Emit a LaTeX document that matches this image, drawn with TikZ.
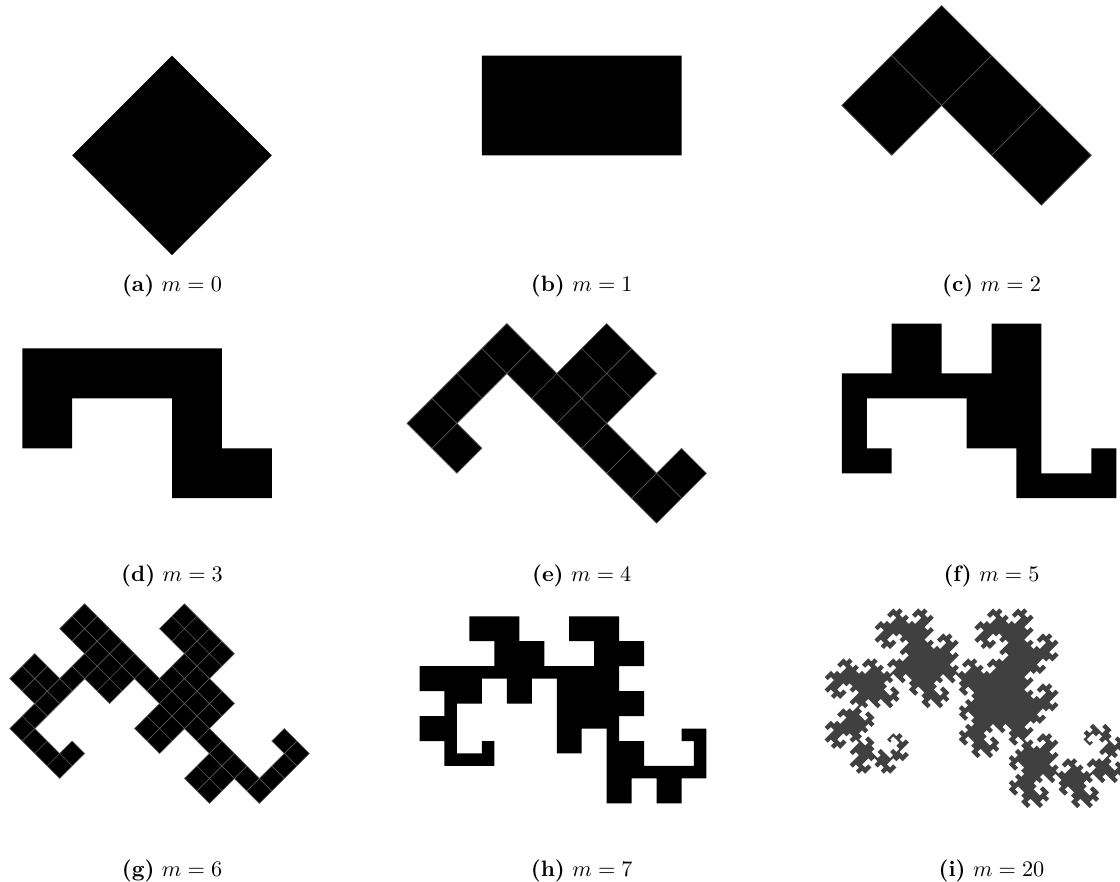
\documentclass[tikz,border=0pt]{standalone}
\usetikzlibrary{lindenmayersystems}
\definecolor{tile}{HTML}{000000}
\definecolor{seam}{HTML}{5A5A5A}
\definecolor{limit}{HTML}{404040}

% each S is one square whose diagonal is the current step
\pgfdeclarelindenmayersystem{dragon tiles}{
  \symbol{S}{%
    \pgflsystemturnleft\pgflsystemdrawforward
    \pgflsystemturnright\pgflsystemturnright\pgflsystemdrawforward
    \pgflsystemturnright\pgflsystemturnright\pgflsystemdrawforward
    \pgflsystemturnright\pgflsystemturnright\pgflsystemdrawforward
    \pgflsystemturnright\pgflsystemturnright\pgflsystemmoveforward
    \pgflsystemturnright\pgflsystemturnright\pgflsystemmoveforward
    \pgflsystemturnleft}
  \rule{X -> X--YS--}
  \rule{Y -> ++SX++Y}
}

\begin{document}
\begin{tikzpicture}[x=0.45pt,y=0.45pt,
  subcap/.style={font=\normalsize,anchor=base,inner sep=0pt},
  plaintile/.style={fill=tile},
  seamtile/.style={fill=tile,draw=seam,line width=0.3pt},
  limittile/.style={fill=limit}]
  \useasboundingbox (0,-881) rectangle (1120,0);
  \clip (0,-881) rectangle (1120,0);

  % ---- dragon tilings, one per panel (A = start of the base segment) ----
  % m = 20 is shown with a finer tiling of order 12
  \foreach \name/\ax/\ay/\ord/\axm/\edge/\look/\mm/\cy in {
      a/72.2/-155.3/0/SX/63.51/plaintile/0/-291.5,
      b/481.9/-155.3/1/+SX/44.91/plaintile/1/-291.5,
      c/891.7/-155.3/2/++SX/31.76/seamtile/2/-291.5,
      d/72.2/-448.3/3/+++SX/22.46/plaintile/3/-581,
      e/481.9/-448.3/4/++++SX/15.88/seamtile/4/-581,
      f/891.7/-448.3/5/+++++SX/11.23/plaintile/5/-581,
      g/72.2/-741/6/++++++SX/7.94/seamtile/6/-876,
      h/481.9/-741/7/+++++++SX/5.614/plaintile/7/-876,
      i/891.7/-741/12/++++SX/0.9924/limittile/20/-876}{
    \coordinate (A\name) at (\ax,\ay);
    \begin{scope}[shift={(A\name)}]
      \path[\look,l-system={dragon tiles, axiom=\axm, order=\ord, step=\edge pt, angle=45}]
        (0,0) lindenmayer system;
    \end{scope}
    % caption under the panel
    \node[subcap] (cap\name) at (\ax+99.8,\cy) {\textbf{(\name)} $m=\mm$};
  }
\end{tikzpicture}
\end{document}
